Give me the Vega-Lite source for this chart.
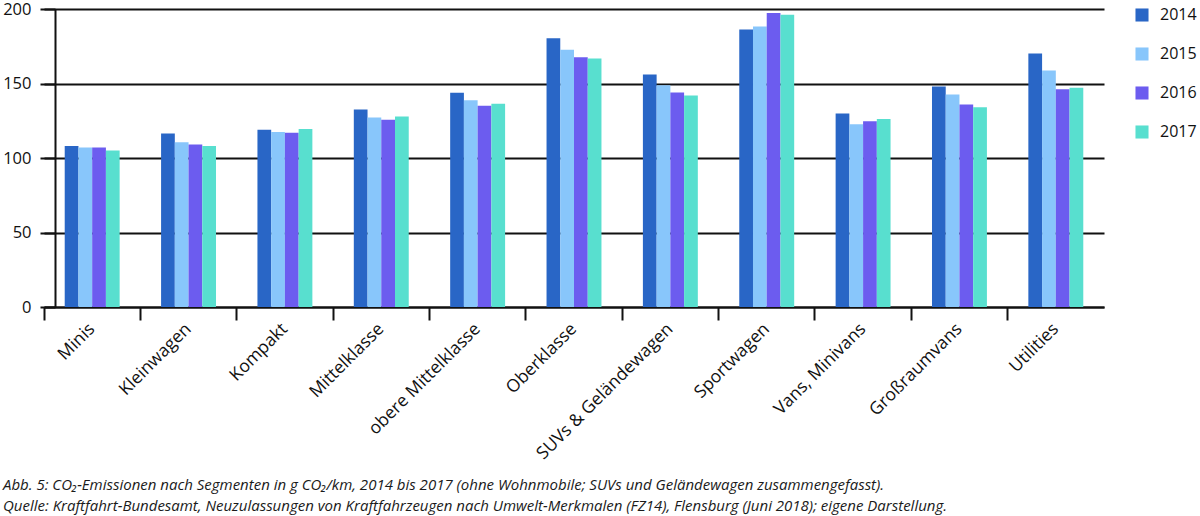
{
  "$schema": "https://vega.github.io/schema/vega-lite/v6.json",
  "width": 1060,
  "height": 298,
  "autosize": {"type": "none"},
  "padding": {"left": 44, "top": 9, "right": 96, "bottom": 209},
  "background": "white",
  "config": {
    "view": {"stroke": null},
    "font": "Open Sans"
  },
  "title": {
    "text": [
      "Abb. 5: CO₂-Emissionen nach Segmenten in g CO₂/km, 2014 bis 2017 (ohne Wohnmobile; SUVs und Geländewagen zusammengefasst).",
      "Quelle: Kraftfahrt-Bundesamt, Neuzulassungen von Kraftfahrzeugen nach Umwelt-Merkmalen (FZ14), Flensburg (Juni 2018); eigene Darstellung."
    ],
    "orient": "bottom",
    "anchor": "start",
    "frame": "group",
    "dx": -41,
    "offset": 16,
    "font": "Open Sans",
    "fontSize": 15,
    "fontStyle": "italic",
    "fontWeight": "normal",
    "lineHeight": 21,
    "color": "#1a1a1a"
  },
  "data": {
    "values": [
      {"segment": "Minis", "year": "2014", "value": 108},
      {"segment": "Minis", "year": "2015", "value": 107},
      {"segment": "Minis", "year": "2016", "value": 107},
      {"segment": "Minis", "year": "2017", "value": 105},
      {"segment": "Kleinwagen", "year": "2014", "value": 116.5},
      {"segment": "Kleinwagen", "year": "2015", "value": 110.5},
      {"segment": "Kleinwagen", "year": "2016", "value": 109},
      {"segment": "Kleinwagen", "year": "2017", "value": 108},
      {"segment": "Kompakt", "year": "2014", "value": 119},
      {"segment": "Kompakt", "year": "2015", "value": 117.5},
      {"segment": "Kompakt", "year": "2016", "value": 117},
      {"segment": "Kompakt", "year": "2017", "value": 119.4},
      {"segment": "Mittelklasse", "year": "2014", "value": 132.5},
      {"segment": "Mittelklasse", "year": "2015", "value": 127.2},
      {"segment": "Mittelklasse", "year": "2016", "value": 125.6},
      {"segment": "Mittelklasse", "year": "2017", "value": 127.9},
      {"segment": "obere Mittelklasse", "year": "2014", "value": 143.8},
      {"segment": "obere Mittelklasse", "year": "2015", "value": 138.8},
      {"segment": "obere Mittelklasse", "year": "2016", "value": 135},
      {"segment": "obere Mittelklasse", "year": "2017", "value": 136.4},
      {"segment": "Oberklasse", "year": "2014", "value": 180.3},
      {"segment": "Oberklasse", "year": "2015", "value": 172.7},
      {"segment": "Oberklasse", "year": "2016", "value": 167.7},
      {"segment": "Oberklasse", "year": "2017", "value": 166.8},
      {"segment": "SUVs & Geländewagen", "year": "2014", "value": 156.1},
      {"segment": "SUVs & Geländewagen", "year": "2015", "value": 148.9},
      {"segment": "SUVs & Geländewagen", "year": "2016", "value": 144},
      {"segment": "SUVs & Geländewagen", "year": "2017", "value": 142},
      {"segment": "Sportwagen", "year": "2014", "value": 186.3},
      {"segment": "Sportwagen", "year": "2015", "value": 188.3},
      {"segment": "Sportwagen", "year": "2016", "value": 197.3},
      {"segment": "Sportwagen", "year": "2017", "value": 196.2},
      {"segment": "Vans, Minivans", "year": "2014", "value": 129.9},
      {"segment": "Vans, Minivans", "year": "2015", "value": 122.7},
      {"segment": "Vans, Minivans", "year": "2016", "value": 124.7},
      {"segment": "Vans, Minivans", "year": "2017", "value": 126.1},
      {"segment": "Großraumvans", "year": "2014", "value": 148},
      {"segment": "Großraumvans", "year": "2015", "value": 142.6},
      {"segment": "Großraumvans", "year": "2016", "value": 135.9},
      {"segment": "Großraumvans", "year": "2017", "value": 134.1},
      {"segment": "Utilities", "year": "2014", "value": 170.2},
      {"segment": "Utilities", "year": "2015", "value": 158.8},
      {"segment": "Utilities", "year": "2016", "value": 146.2},
      {"segment": "Utilities", "year": "2017", "value": 147.1}
    ]
  },
  "mark": {"type": "bar"},
  "encoding": {
    "x": {
      "field": "segment",
      "type": "nominal",
      "sort": null,
      "scale": {"paddingInner": 0.43, "paddingOuter": 0.215},
      "axis": {
        "title": null,
        "bandPosition": -0.377,
        "labelAngle": -45,
        "labelAlign": "right",
        "labelBaseline": "middle",
        "labelFontSize": 17.5,
        "labelLimit": 0,
        "labelColor": "#111",
        "labelPadding": 6,
        "tickSize": 13,
        "tickWidth": 2,
        "tickColor": "#111",
        "domainColor": "#111",
        "domainWidth": 2,
        "grid": false
      }
    },
    "y": {
      "field": "value",
      "type": "quantitative",
      "scale": {"domain": [0, 200], "nice": false},
      "axis": {
        "title": null,
        "values": [0, 50, 100, 150, 200],
        "offset": -11,
        "tickSize": 15,
        "tickWidth": 2,
        "tickColor": "#111",
        "domainColor": "#111",
        "domainWidth": 2,
        "grid": true,
        "gridColor": "#111",
        "gridWidth": 2,
        "labelFontSize": 16.5,
        "labelColor": "#111",
        "labelPadding": 9
      }
    },
    "xOffset": {"field": "year", "type": "nominal", "scale": {"paddingInner": 0}},
    "color": {
      "field": "year",
      "type": "nominal",
      "scale": {
        "domain": ["2014", "2015", "2016", "2017"],
        "range": ["#2966c6", "#88c6fb", "#6c5cef", "#58dfcf"]
      },
      "legend": {
        "title": null,
        "orient": "none",
        "legendX": 1090,
        "legendY": -2,
        "symbolType": "square",
        "symbolSize": 170,
        "symbolStrokeWidth": 0,
        "labelFontSize": 16,
        "labelColor": "#111",
        "labelOffset": 10,
        "rowPadding": 23
      }
    }
  }
}
